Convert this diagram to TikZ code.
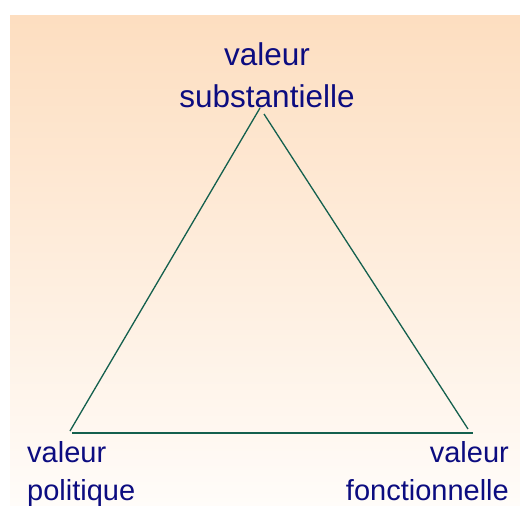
\documentclass[tikz,border=0pt]{standalone}
\usepackage{fontspec}
\setmainfont{Liberation Sans}
\usetikzlibrary{positioning}
\definecolor{ValNavy}{RGB}{12,12,128}
\definecolor{ValLine}{RGB}{20,96,78}
\definecolor{ValPeach}{RGB}{253,222,192}
\definecolor{ValPale}{RGB}{255,252,249}
\tikzset{
  val label/.style={
    text=ValNavy,
    font=\fontsize{29}{38}\selectfont,
    inner sep=0pt
  },
  val top/.style={val label, font=\fontsize{31.5}{42}\selectfont},
  val side/.style={draw=ValLine, line width=1.3pt}
}
\begin{document}
\begin{tikzpicture}[x=1pt,y=-1pt]
\useasboundingbox (0,0) rectangle (520,506);
\shade[top color=ValPeach, bottom color=ValPale] (10,15) rectangle (520,506);
% labels (base = last line)
\node[val top, align=center, anchor=base] (sub) at (267,107) {valeur\\substantielle};
\node[val label, align=left, anchor=base west] (pol) at (27,500) {valeur\\politique};
\node[val label, align=right, anchor=base east] (fon) at (509,500) {valeur\\fonctionnelle};
% triangle corners
\coordinate (apexl) at (260,108);
\coordinate (apexr) at (264,114);
\coordinate (lefta) at (70,431);
\coordinate (leftb) at (72,433);
\coordinate (righta) at (468,429);
\coordinate (rightb) at (473,433);
\draw[val side] (lefta)--(apexl);
\draw[val side] (apexr)--(righta);
\draw[val side] (leftb)--(rightb);
\end{tikzpicture}
\end{document}
